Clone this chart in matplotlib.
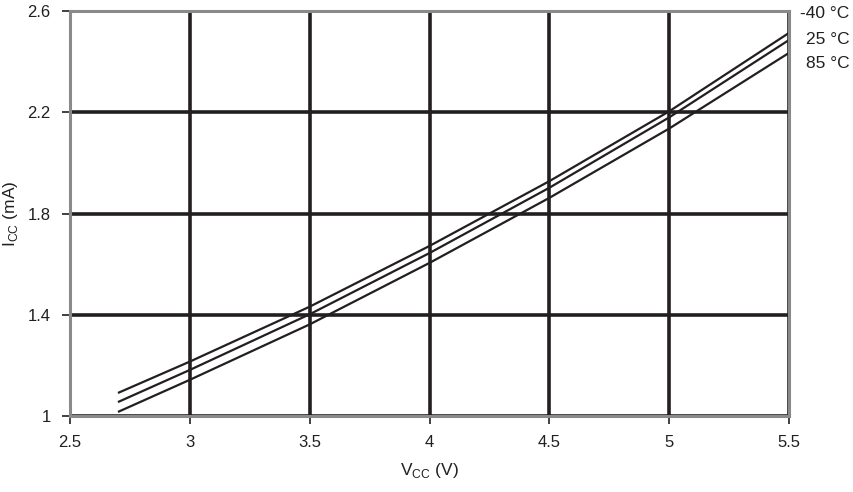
import numpy as np
import matplotlib.pyplot as plt

plt.rcParams['font.family'] = ['Liberation Sans', 'DejaVu Sans']

vcc = [2.7, 3.0, 3.5, 4.0, 4.5, 5.0, 5.5]
icc_m40 = [1.091, 1.215, 1.432, 1.672, 1.928, 2.204, 2.514]
icc_25 = [1.055, 1.182, 1.402, 1.644, 1.902, 2.180, 2.486]
icc_85 = [1.016, 1.143, 1.362, 1.605, 1.862, 2.136, 2.435]
labels = ['-40 °C', '25 °C', '85 °C']

fig = plt.figure(figsize=(8.54, 4.92), dpi=100)
ax = fig.add_axes([0.082, 0.1545, 0.842, 0.823])

for ys in (icc_m40, icc_25, icc_85):
    ax.plot(vcc, ys, color='#231f20', lw=1.6, solid_capstyle='butt')

ax.set_xlim(2.5, 5.5)
ax.set_ylim(1, 2.6)
ax.set_xticks([2.5, 3, 3.5, 4, 4.5, 5, 5.5])
ax.set_xticklabels(['2.5', '3', '3.5', '4', '4.5', '5', '5.5'])
ax.set_yticks([1, 1.4, 1.8, 2.2, 2.6])
ax.set_yticklabels(['1', '1.4', '1.8', '2.2', '2.6'])
ax.grid(True, color='#231f20', lw=2.6)
ax.set_axisbelow(True)
for s in ax.spines.values():
    s.set_color('#8a8a8a')
    s.set_linewidth(2.2)
ax.tick_params(direction='out', length=6, width=1.2, color='#231f20',
               labelsize=12, labelcolor='#231f20', pad=8)

ax.set_xlabel('V$_{\\mathregular{CC}}$ (V)', fontsize=12.5, color='#231f20')
ax.set_ylabel('I$_{\\mathregular{CC}}$ (mA)', fontsize=12.5, color='#231f20')
ax.xaxis.set_label_coords(0.5, -0.112)
ax.yaxis.set_label_coords(-0.069, 0.5)

for i, t in enumerate(labels):
    fig.text(0.995, 1 - (14 + 25 * i) / 492, t, ha='right', va='center',
             fontsize=12.5, color='#231f20')

fig.savefig('out.png', dpi=100)
